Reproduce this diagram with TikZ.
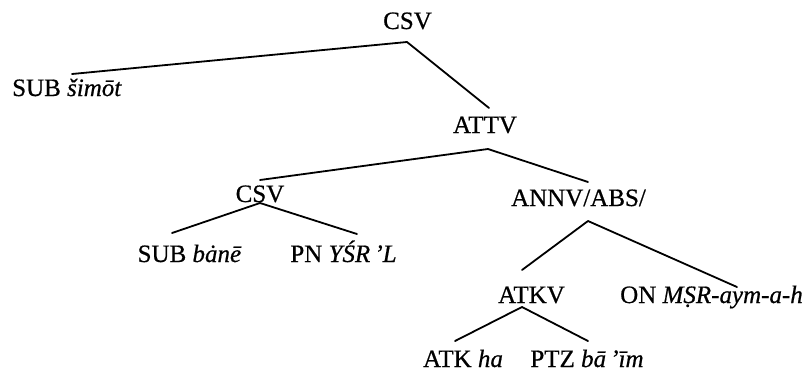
\documentclass[tikz,border=0pt]{standalone}
\usepackage{fontspec}
\setmainfont[FakeBold=0.6]{Liberation Serif}
\begin{document}
\begin{tikzpicture}[x=1bp,y=-1bp,
  lbl/.style={inner sep=0pt,anchor=base,font=\fontsize{25bp}{30bp}\selectfont},
  branch/.style={line width=1.8bp,line join=round,line cap=round}]
\useasboundingbox (0,0) rectangle (807,376);

% labels
\node[lbl] (csv0) at (407.5,29)  {CSV};
\node[lbl] (sub1) at (67,96)     {SUB \textit{šimōt}};
\node[lbl] (attv) at (485,133)   {ATTV};
\node[lbl] (csv1) at (260,202)   {CSV};
\node[lbl] (annv) at (578.5,206) {ANNV/ABS/};
\node[lbl] (sub2) at (189.5,262) {SUB \textit{bȧnē}};
\node[lbl] (pn)   at (343.5,262) {PN \textit{YŚR\,’L}};
\node[lbl] (atkv) at (531.5,303) {ATKV};
\node[lbl] (on)   at (711.5,303) {ON \textit{M\d{S}R-aym-a-h}};
\node[lbl] (atk)  at (463,367)   {ATK \textit{ha}};
\node[lbl] (ptz)  at (587,367)   {PTZ \textit{bā\,’īm}};

% branching points and branch ends
\coordinate (csv0-v) at (407,42);
\coordinate (sub1-t) at (72,74);
\coordinate (attv-t) at (489,108);
\coordinate (attv-v) at (488,149);
\coordinate (csv1-t) at (260,180);
\coordinate (annv-t) at (588,182);
\coordinate (csv1-v) at (260,203);
\coordinate (sub2-t) at (172,233);
\coordinate (pn-t)   at (357,234);
\coordinate (annv-v) at (588,221);
\coordinate (atkv-t) at (522,270);
\coordinate (on-t)   at (737,287);
\coordinate (atkv-v) at (522,307);
\coordinate (atk-t)  at (455,341);
\coordinate (ptz-t)  at (588,341);

% branches
\draw[branch] (sub1-t) -- (csv0-v) -- (attv-t);
\draw[branch] (csv1-t) -- (attv-v) -- (annv-t);
\draw[branch] (sub2-t) -- (csv1-v) -- (pn-t);
\draw[branch] (atkv-t) -- (annv-v) -- (on-t);
\draw[branch] (atk-t) -- (atkv-v) -- (ptz-t);
\end{tikzpicture}
\end{document}
